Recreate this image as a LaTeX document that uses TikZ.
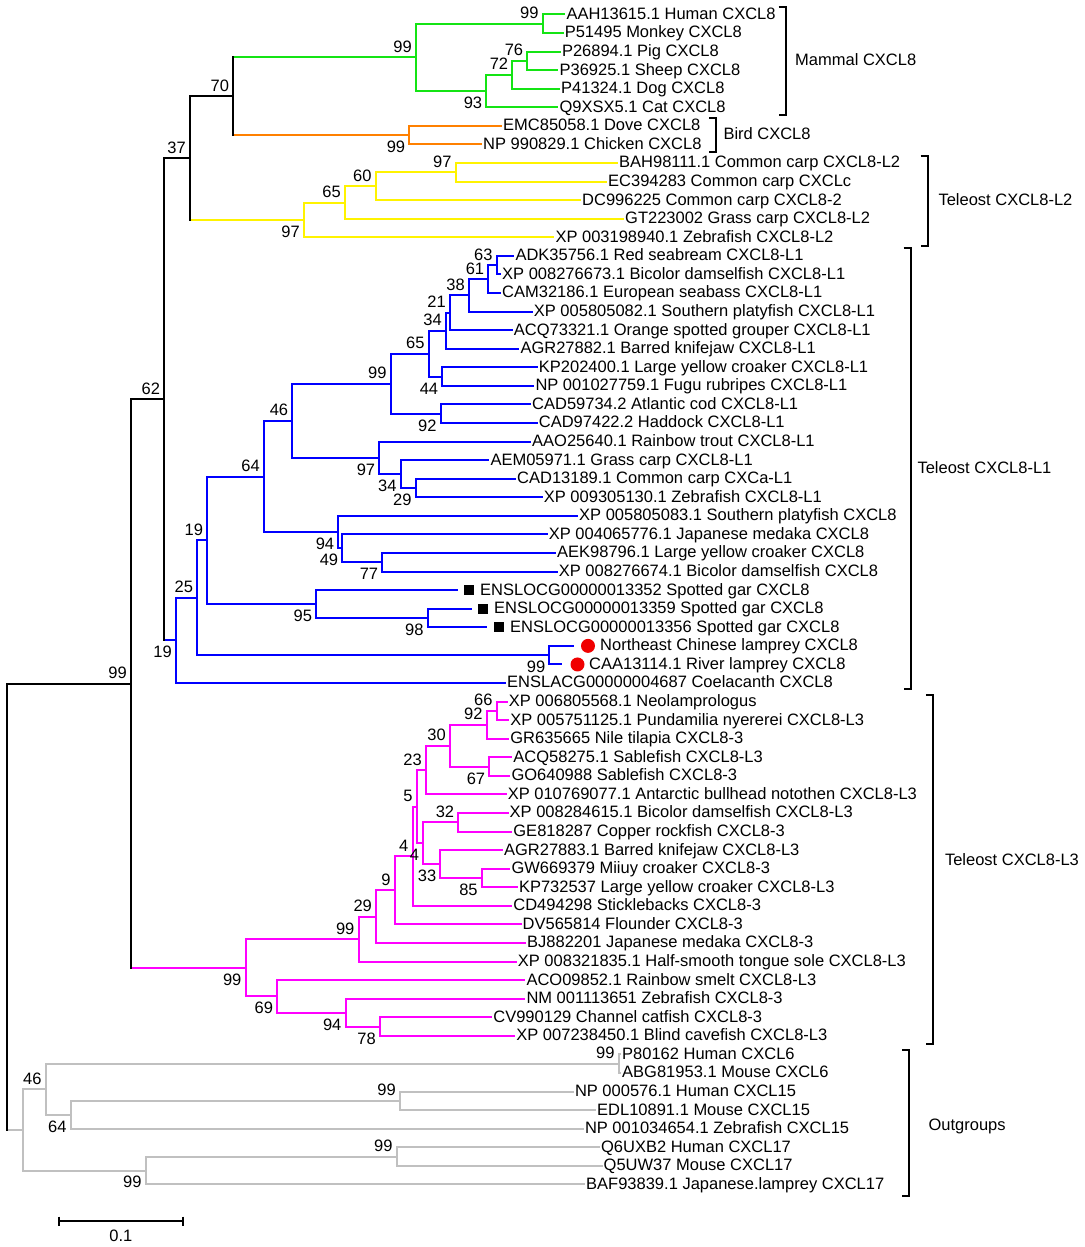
\documentclass[tikz,border=0pt]{standalone}
\usepackage{fontspec}
\setmainfont{Liberation Sans}
\usepackage{tikz}

\definecolor{mamgreen}{RGB}{20,228,20}
\definecolor{birdorange}{RGB}{255,128,0}
\definecolor{ltwoyellow}{RGB}{255,243,0}
\definecolor{lonetblue}{RGB}{0,0,255}
\definecolor{lthreepink}{RGB}{255,0,255}
\definecolor{outgray}{RGB}{192,192,192}
\definecolor{lampred}{RGB}{240,0,0}

\begin{document}
\begin{tikzpicture}[x=1pt,y=-1pt,
    every node/.style={font=\fontsize{16.5}{19}\selectfont, inner sep=0pt},
    br/.style={line width=2pt, line cap=rect},
    cmam/.style={br, draw=mamgreen},
    cbrd/.style={br, draw=birdorange},
    cl2/.style={br, draw=ltwoyellow},
    cl1/.style={br, draw=lonetblue},
    cl3/.style={br, draw=lthreepink},
    cog/.style={br, draw=outgray},
    cblk/.style={br, draw=black},
    brk/.style={line width=2pt},
    leaf/.style={anchor=base west, xshift=2pt, yshift=-4.9pt},
    bsa/.style={anchor=base east, xshift=-4pt, yshift=5pt},
    bsb/.style={anchor=base east, xshift=-4pt, yshift=-17.4pt},
    grp/.style={anchor=base west, yshift=-5.9pt},
    gar/.style={rectangle, fill=black, minimum size=10pt},
    lam/.style={circle, fill=lampred, minimum size=14pt}]

    \fill[white] (0,0) rectangle (1084,1247);

    % inner nodes of the tree
    \foreach \n/\x/\y in {hm/542.7/23.8, ps/527.3/60.9, psd/512.3/74.9, psdc/486.3/91.1,
        mam/416/57.5, bird/409.3/135.2, mb/233.3/96.4,
        y97b/455.7/172.4, y60/375.7/186.3, y65/345/202.6, y97/304/220.0, n37/190/158.2,
        b63/496.7/265.2, b61/488.3/279.2, b38/469/295.4, b21/450/312.8, b34/446/330.8,
        b44/442.3/376.6, b65/428.7/353.7, b92/440.7/413.8, b99/390.7/383.8,
        b29/415.7/488.1, b34b/400.7/474.2, b97/379.3/457.9, b46/292.3/420.9,
        b77/382.3/562.3, b49/342.3/548.4, b94/338.3/532.2, b64/264/476.6,
        b98/427.7/618.0, b95/316.2/604.1, b19b/207.3/540.4, b99l/549.4/655.2,
        b25/197.3/597.8, b19a/176/640.4, n62/164.3/399.3,
        p66/496.7/710.9, p92/486.7/724.8, p67/489.3/766.6, p30/450/745.7, p23/426/770.1,
        p32/458.3/822.3, p85/481.8/878.0, p33/440.4/864.1, p4b/423.3/843.2, p5/416.7/806.7,
        p4a/412.5/856.3, p9/394.7/890.4, p29/376.1/916.7, p99b/358.6/939.2,
        p78/380/1026.6, p94/345.6/1012.7, p69/277.2/996.4, p99/245.6/967.8, n99r/131/683.6,
        g6/618.7/1063.7, g15/400/1100.9, g64/70.7/1114.8, g46/45.7/1089.3,
        g17/396.7/1156.6, g99/145.7/1170.5, gout/23.3/1129.9, root/7.3/906.8}
        \coordinate (\n) at (\x,\y);

    % leaves and their names
    \foreach \i/\x/\t in {1/564.3/{AAH13615.1 Human CXCL8}, 2/562.6/{P51495 Monkey CXCL8},
        3/559.8/{P26894.1 Pig CXCL8}, 4/557.4/{P36925.1 Sheep CXCL8},
        5/559/{P41324.1 Dog CXCL8}, 6/557.4/{Q9XSX5.1 Cat CXCL8},
        7/501/{EMC85058.1 Dove CXCL8}, 8/481/{NP 990829.1 Chicken CXCL8},
        9/617/{BAH98111.1 Common carp CXCL8-L2}, 10/606/{EC394283 Common carp CXCLc},
        11/580/{DC996225 Common carp CXCL8-2}, 12/623/{GT223002 Grass carp CXCL8-L2},
        13/553.3/{XP 003198940.1 Zebrafish CXCL8-L2},
        14/513.3/{ADK35756.1 Red seabream CXCL8-L1},
        15/500/{XP 008276673.1 Bicolor damselfish CXCL8-L1},
        16/500/{CAM32186.1 European seabass CXCL8-L1},
        17/531.7/{XP 005805082.1 Southern platyfish CXCL8-L1},
        18/511.7/{ACQ73321.1 Orange spotted grouper CXCL8-L1},
        19/518.3/{AGR27882.1 Barred knifejaw CXCL8-L1},
        20/536.7/{KP202400.1 Large yellow croaker CXCL8-L1},
        21/533.3/{NP 001027759.1 Fugu rubripes CXCL8-L1},
        22/530/{CAD59734.2 Atlantic cod CXCL8-L1}, 23/536.7/{CAD97422.2 Haddock CXCL8-L1},
        24/530/{AAO25640.1 Rainbow trout CXCL8-L1}, 25/488.3/{AEM05971.1 Grass carp CXCL8-L1},
        26/515/{CAD13189.1 Common carp CXCa-L1}, 27/541.7/{XP 009305130.1 Zebrafish CXCL8-L1},
        28/577/{XP 005805083.1 Southern platyfish CXCL8},
        29/546.7/{XP 004065776.1 Japanese medaka CXCL8},
        30/555/{AEK98796.1 Large yellow croaker CXCL8},
        31/556.7/{XP 008276674.1 Bicolor damselfish CXCL8},
        37/505/{ENSLACG00000004687 Coelacanth CXCL8},
        38/506.7/{XP 006805568.1 Neolamprologus},
        39/508.2/{XP 005751125.1 Pundamilia nyererei CXCL8-L3},
        40/508.2/{GR635665 Nile tilapia CXCL8-3}, 41/511.2/{ACQ58275.1 Sablefish CXCL8-L3},
        42/509.3/{GO640988 Sablefish CXCL8-3},
        43/505.6/{XP 010769077.1 Antarctic bullhead notothen CXCL8-L3},
        44/507.5/{XP 008284615.1 Bicolor damselfish CXCL8-L3},
        45/511.2/{GE818287 Copper rockfish CXCL8-3},
        46/501.9/{AGR27883.1 Barred knifejaw CXCL8-L3},
        47/509.3/{GW669379 Miiuy croaker CXCL8-3},
        48/516.8/{KP732537 Large yellow croaker CXCL8-L3},
        49/511.2/{CD494298 Sticklebacks CXCL8-3}, 50/520.5/{DV565814 Flounder CXCL8-3},
        51/525/{BJ882201 Japanese medaka CXCL8-3},
        52/515.7/{XP 008321835.1 Half-smooth tongue sole CXCL8-L3},
        53/524.3/{ACO09852.1 Rainbow smelt CXCL8-L3},
        54/524.3/{NM 001113651 Zebrafish CXCL8-3}, 55/491.2/{CV990129 Channel catfish CXCL8-3},
        56/514.2/{XP 007238450.1 Blind cavefish CXCL8-L3},
        57/620/{P80162 Human CXCL6}, 58/620/{ABG81953.1 Mouse CXCL6},
        59/572.8/{NP 000576.1 Human CXCL15}, 60/595/{EDL10891.1 Mouse CXCL15},
        61/582.8/{NP 001034654.1 Zebrafish CXCL15}, 62/598.9/{Q6UXB2 Human CXCL17},
        63/601.5/{Q5UW37 Mouse CXCL17}, 64/584/{BAF93839.1 Japanese.lamprey CXCL17}}
    {
        \coordinate (l\i) at (\x,{14.5+18.57*(\i-1)});
        \node[leaf] (t\i) at (l\i) {\t};
    }

    % spotted gar and lamprey leaves carry a mark
    \coordinate (l32) at (456.5,590.17);
    \coordinate (l33) at (471,608.74);
    \coordinate (l34) at (486,627.31);
    \coordinate (l35) at (573,645.88);
    \coordinate (l36) at (561,664.45);
    \node[gar] (q32) at (469.3,590.17) {};
    \node[gar] (q33) at (483.4,608.74) {};
    \node[gar] (q34) at (499,627.31) {};
    \node[lam] (c35) at (588,645.88) {};
    \node[lam] (c36) at (577.5,664.45) {};
    \node[leaf] (t32) at (478,590.17) {ENSLOCG00000013352 Spotted gar CXCL8};
    \node[leaf] (t33) at (492,608.74) {ENSLOCG00000013359 Spotted gar CXCL8};
    \node[leaf] (t34) at (508,627.31) {ENSLOCG00000013356 Spotted gar CXCL8};
    \node[leaf] (t35) at (598,645.88) {Northeast Chinese lamprey CXCL8};
    \node[leaf] (t36) at (587,664.45) {CAA13114.1 River lamprey CXCL8};

    % Mammal CXCL8
    \foreach \k/\P in {l1/hm, l2/hm, l3/ps, l4/ps, ps/psd, l5/psd, psd/psdc, l6/psdc,
        hm/mam, psdc/mam}
        \draw[cmam] (\P) |- (\k);
    % Bird CXCL8
    \foreach \k/\P in {l7/bird, l8/bird}
        \draw[cbrd] (\P) |- (\k);
    % Teleost CXCL8-L2
    \foreach \k/\P in {l9/y97b, l10/y97b, y97b/y60, l11/y60, y60/y65, l12/y65, y65/y97, l13/y97}
        \draw[cl2] (\P) |- (\k);
    % Teleost CXCL8-L1
    \foreach \k/\P in {l14/b63, l15/b63, b63/b61, l16/b61, b61/b38, l17/b38, b38/b21, l18/b21,
        b21/b34, l19/b34, b34/b65, b44/b65, l20/b44, l21/b44, b65/b99, b92/b99, l22/b92, l23/b92,
        b99/b46, b97/b46, l24/b97, b34b/b97, l25/b34b, b29/b34b, l26/b29, l27/b29,
        b46/b64, b94/b64, l28/b94, b49/b94, l29/b49, b77/b49, l30/b77, l31/b77,
        b64/b19b, b95/b19b, l32/b95, b98/b95, l33/b98, l34/b98,
        b19b/b25, b99l/b25, l35/b99l, l36/b99l, b25/b19a, l37/b19a}
        \draw[cl1] (\P) |- (\k);
    % Teleost CXCL8-L3
    \foreach \k/\P in {l38/p66, l39/p66, p66/p92, l40/p92, p92/p30, p67/p30, l41/p67, l42/p67,
        p30/p23, l43/p23, p23/p5, p4b/p5, p32/p4b, l44/p32, l45/p32, p33/p4b, l46/p33, p85/p33,
        l47/p85, l48/p85, p5/p4a, l49/p4a, p4a/p9, l50/p9, p9/p29, l51/p29, p29/p99b, l52/p99b,
        p99b/p99, p69/p99, l53/p69, p94/p69, l54/p94, p78/p94, l55/p78, l56/p78}
        \draw[cl3] (\P) |- (\k);
    % Outgroups
    \foreach \k/\P in {g46/gout, g99/gout, g6/g46, g64/g46, l57/g6, l58/g6, g15/g64, l61/g64,
        l59/g15, l60/g15, g17/g99, l64/g99, l62/g17, l63/g17}
        \draw[cog] (\P) |- (\k);

    % stems of the groups, then the black backbone
    \foreach \k/\P/\c in {mam/mb/cmam, bird/mb/cbrd, y97/n37/cl2, b19a/n62/cl1,
        p99/n99r/cl3, gout/root/cog}
        \draw[\c] (\P |- \k) -- (\k);
    \foreach \k/\P in {mam/mb, bird/mb, y97/n37, b19a/n62, p99/n99r, gout/root}
        \draw[cblk] (\P) -- (\P |- \k);
    \foreach \k/\P in {mb/n37, n37/n62, n62/n99r, n99r/root}
        \draw[cblk] (\P) |- (\k);

    % bootstrap values
    \foreach \n/\v in {hm/99, ps/76, psd/72, mam/99, mb/70, n37/37, y97b/97, y60/60, y65/65,
        b63/63, b61/61, b38/38, b21/21, b34/34, b65/65, b99/99, b46/46, b64/64, b19b/19, b25/25,
        n62/62, n99r/99, p66/66, p92/92, p30/30, p23/23, p5/5, p32/32, p4a/4, p9/9, p29/29,
        p99b/99, g6/99, g15/99, g46/46, g17/99}
        \node[bsa] (s\n) at (\n) {\v};
    \foreach \n/\v in {psdc/93, bird/99, y97/97, b44/44, b92/92, b97/97, b34b/34, b29/29,
        b94/94, b49/49, b77/77, b95/95, b98/98, b99l/99, b19a/19, p67/67, p4b/4, p33/33,
        p85/85, p99/99, p69/69, p94/94, p78/78, g64/64, g99/99}
        \node[bsb] (s\n) at (\n) {\v};

    % group brackets
    \foreach \x/\a/\b in {785.6/6.7/115, 716.4/118.3/151.7, 927.7/156.4/245.7,
        910.7/248.2/689.3, 932.8/694.5/1043.8, 909.3/1049.5/1196}
        \draw[brk] (\x-7,\a) -- (\x,\a) -- (\x,\b) -- (\x-7,\b);
    \node[grp] (gmam) at (795,60) {Mammal CXCL8};
    \node[grp] (gbrd) at (723.3,133.3) {Bird CXCL8};
    \node[grp] (gl2) at (938.3,199.3) {Teleost CXCL8-L2};
    \node[grp] (gl1) at (917.3,467.1) {Teleost CXCL8-L1};
    \node[grp] (gl3) at (944.8,860) {Teleost CXCL8-L3};
    \node[grp] (gog) at (928.4,1124.8) {Outgroups};

    % scale bar
    \coordinate (sba) at (59,1221);
    \coordinate (sbb) at (182.7,1221);
    \draw[brk] (sba) -- (sbb);
    \draw[brk] (sba) ++(0,-4.5) -- ++(0,9);
    \draw[brk] (sbb) ++(0,-4.5) -- ++(0,9);
    \node[anchor=base] (sbl) at (120.8,1241.7) {0.1};
\end{tikzpicture}
\end{document}
